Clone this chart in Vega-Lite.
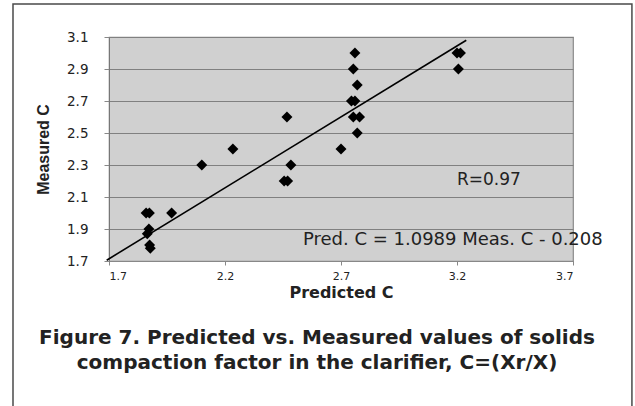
{
  "$schema": "https://vega.github.io/schema/vega-lite/v6.json",
  "width": 464,
  "height": 224,
  "autosize": {"type": "none"},
  "padding": {"left": 109, "top": 37, "right": 62, "bottom": 145},
  "background": "white",
  "view": {"fill": "#d0d0d0", "stroke": "#8a8a8a", "strokeWidth": 1.2},
  "title": {
    "text": ["Figure 7. Predicted vs. Measured values of solids", "compaction factor in the clarifier, C=(Xr/X)"],
    "orient": "bottom",
    "anchor": "middle",
    "dx": -24,
    "offset": -94,
    "font": "DejaVu Sans",
    "fontSize": 20,
    "fontWeight": "bold",
    "lineHeight": 25,
    "color": "#222222"
  },
  "config": {
    "axisX": {
      "grid": false,
      "tickCount": 20,
      "labelFont": "DejaVu Sans",
      "labelFontSize": 11,
      "labelColor": "#222222",
      "labelPadding": 5,
      "tickSize": 4,
      "tickColor": "#888888",
      "domainColor": "#888888",
      "titleFont": "DejaVu Sans",
      "titleFontSize": 16,
      "titleFontWeight": "bold",
      "titleColor": "#222222",
      "titlePadding": 3
    },
    "axisY": {
      "grid": true,
      "tickCount": 20,
      "gridColor": "#808080",
      "gridWidth": 1.2,
      "labelFont": "DejaVu Sans",
      "labelFontSize": 13.5,
      "labelColor": "#222222",
      "labelPadding": 16,
      "tickSize": 5,
      "tickColor": "#888888",
      "domainColor": "#777777",
      "titleFont": "Liberation Sans",
      "titleFontSize": 16,
      "titleFontWeight": "bold",
      "titleColor": "#222222",
      "titlePadding": 15
    }
  },
  "datasets": {
    "points": [
      {"predicted": 2.467, "measured": 2.6},
      {"predicted": 2.234, "measured": 2.4},
      {"predicted": 2.10, "measured": 2.3},
      {"predicted": 2.484, "measured": 2.3},
      {"predicted": 2.455, "measured": 2.2},
      {"predicted": 2.47, "measured": 2.2},
      {"predicted": 2.76, "measured": 3.0},
      {"predicted": 2.753, "measured": 2.9},
      {"predicted": 2.77, "measured": 2.8},
      {"predicted": 2.745, "measured": 2.7},
      {"predicted": 2.76, "measured": 2.7},
      {"predicted": 2.753, "measured": 2.6},
      {"predicted": 2.78, "measured": 2.6},
      {"predicted": 2.77, "measured": 2.5},
      {"predicted": 2.70, "measured": 2.4},
      {"predicted": 3.20, "measured": 3.0},
      {"predicted": 3.215, "measured": 3.0},
      {"predicted": 3.206, "measured": 2.9},
      {"predicted": 1.86, "measured": 2.0},
      {"predicted": 1.874, "measured": 2.0},
      {"predicted": 1.97, "measured": 2.0},
      {"predicted": 1.872, "measured": 1.9},
      {"predicted": 1.865, "measured": 1.87},
      {"predicted": 1.875, "measured": 1.8},
      {"predicted": 1.878, "measured": 1.78}
    ],
    "fit": [
      {"predicted": 1.69, "measured": 1.705},
      {"predicted": 3.24, "measured": 3.08}
    ]
  },
  "layer": [
    {
      "data": {"values": [{}]},
      "mark": {"type": "rect", "fill": null, "stroke": "#4a4a4a", "strokeWidth": 1.5, "clip": false},
      "encoding": {
        "x": {"datum": 1.2862, "type": "quantitative", "scale": {"domain": [1.7, 3.7], "nice": false, "zero": false}},
        "x2": {"datum": 3.954},
        "y": {"datum": 3.306, "type": "quantitative", "scale": {"domain": [1.7, 3.1], "nice": false, "zero": false}},
        "y2": {"datum": 0.7}
      }
    },
    {
      "data": {"name": "points"},
      "mark": {"type": "point", "shape": "diamond", "filled": true, "color": "#000000", "size": 120, "opacity": 1},
      "encoding": {
        "x": {
          "field": "predicted", "type": "quantitative",
          "scale": {"domain": [1.7, 3.7], "nice": false, "zero": false},
          "axis": {"title": "Predicted C", "values": [1.7, 2.2, 2.7, 3.2, 3.7], "format": ".1f"}
        },
        "y": {
          "field": "measured", "type": "quantitative",
          "scale": {"domain": [1.7, 3.1], "nice": false, "zero": false},
          "axis": {"title": "Measured C", "values": [1.7, 1.9, 2.1, 2.3, 2.5, 2.7, 2.9, 3.1], "format": ".1f"}
        }
      }
    },
    {
      "data": {"name": "fit"},
      "mark": {"type": "line", "color": "#000000", "strokeWidth": 1.6, "clip": false},
      "encoding": {
        "x": {"field": "predicted", "type": "quantitative", "scale": {"domain": [1.7, 3.7], "nice": false, "zero": false}, "title": "Predicted C"},
        "y": {"field": "measured", "type": "quantitative", "scale": {"domain": [1.7, 3.1], "nice": false, "zero": false}, "title": "Measured C"}
      }
    },
    {
      "data": {"values": [{}]},
      "mark": {"type": "text", "text": "R=0.97", "align": "left", "baseline": "middle", "font": "DejaVu Sans", "fontSize": 17, "color": "#222222"},
      "encoding": {
        "x": {"datum": 3.2, "type": "quantitative", "scale": {"domain": [1.7, 3.7], "nice": false, "zero": false}},
        "y": {"datum": 2.206, "type": "quantitative", "scale": {"domain": [1.7, 3.1], "nice": false, "zero": false}}
      }
    },
    {
      "data": {"values": [{}]},
      "mark": {"type": "text", "text": "Pred. C = 1.0989 Meas. C - 0.208", "align": "left", "baseline": "middle", "font": "DejaVu Sans", "fontSize": 18, "color": "#222222", "clip": false},
      "encoding": {
        "x": {"datum": 2.536, "type": "quantitative", "scale": {"domain": [1.7, 3.7], "nice": false, "zero": false}},
        "y": {"datum": 1.83, "type": "quantitative", "scale": {"domain": [1.7, 3.1], "nice": false, "zero": false}}
      }
    }
  ]
}
